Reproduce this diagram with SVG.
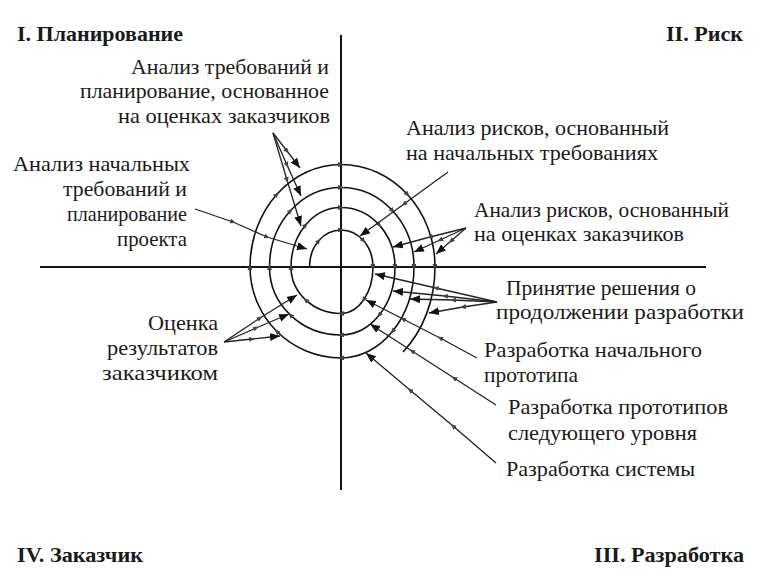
<svg xmlns="http://www.w3.org/2000/svg" width="772" height="586" viewBox="0 0 772 586">
<style>
  text { font-family: "Liberation Serif", "Times New Roman", serif; fill: #1a1a1a; font-size: 22px; }
  .ttl { font-weight: bold; font-size: 21px; }
  .axis { stroke: #111; stroke-width: 2; }
  .spiral { fill: none; stroke: #111; stroke-width: 1.6; marker-mid: url(#tick); }
  .ptr { fill: none; stroke: #222; stroke-width: 1.3; marker-end: url(#ah); marker-mid: url(#tick); }
</style>
<defs>
  <marker id="ah" markerUnits="userSpaceOnUse" markerWidth="11" markerHeight="8" refX="10" refY="4" orient="auto">
    <path d="M0,0 L10,4 L0,8 z" fill="#111"/>
  </marker>
  <marker id="tick" markerUnits="userSpaceOnUse" markerWidth="6" markerHeight="5" refX="3" refY="2.5" orient="auto">
    <path d="M0,0 L6,2.5 L0,5 z" fill="#444"/>
  </marker>
</defs>
<rect width="772" height="586" fill="#fff"/>

<g id="connectors">
  <line class="axis" x1="40" y1="267" x2="706" y2="267"/>
  <line class="axis" x1="341" y1="35" x2="341" y2="490"/>
  <path class="spiral" d="M309.5,267
    A31.5,37 0 0 1 318.7,240.8 A31.5,37 0 0 1 341,230
    A32,37 0 0 1 363.6,240.8 A32,37 0 0 1 373,267
    A32,46.5 0 0 1 363.6,299.9 A32,46.5 0 0 1 341,313.5
    A50,46.5 0 0 1 305.6,299.9 A50,46.5 0 0 1 291,267
    A50,59.5 0 0 1 305.6,224.9 A50,59.5 0 0 1 341,207.5
    A54,59.5 0 0 1 379.2,224.9 A54,59.5 0 0 1 395,267
    A54,68 0 0 1 379.2,315.1 A54,68 0 0 1 341,335
    A71.5,68 0 0 1 290.4,315.1 A71.5,68 0 0 1 269.5,267
    A71.5,79.5 0 0 1 290.4,210.8 A71.5,79.5 0 0 1 341,187.5
    A73,79.5 0 0 1 392.6,210.8 A73,79.5 0 0 1 414,267
    A73,91 0 0 1 392.6,331.3 A73,91 0 0 1 341,358
    A91,91 0 0 1 276.7,331.3 A91,91 0 0 1 250,267
    A91,102.5 0 0 1 276.7,194.5 A91,102.5 0 0 1 341,164.5
    A94,102.5 0 0 1 407.5,194.5 A94,102.5 0 0 1 435,267
    A94,113 0 0 1 403,352"/>
  <path class="ptr" d="M273,133 L287,151 L300,168"/>
  <path class="ptr" d="M273,133 L287,165 L301,196"/>
  <path class="ptr" d="M273,133 L287,180 L301,226"/>
  <path class="ptr" d="M195,209 L233,222 L267,237 L307,249"/>
  <path class="ptr" d="M448,172 L404,204 L360,236"/>
  <path class="ptr" d="M466,228 L430,237 L393,247"/>
  <path class="ptr" d="M466,228 L440,240 L414,252"/>
  <path class="ptr" d="M466,228 L451,241 L436,254"/>
  <path class="ptr" d="M497,302 L436,288 L375,274"/>
  <path class="ptr" d="M497,302 L445,296 L393,291"/>
  <path class="ptr" d="M497,302 L453,300 L410,299"/>
  <path class="ptr" d="M497,302 L463,307 L429,313"/>
  <path class="ptr" d="M477,358 L440,338 L403,319 L366,300"/>
  <path class="ptr" d="M496,405 L454,378 L412,351 L370,324"/>
  <path class="ptr" d="M496,463 L453,426 L410,390 L366,353"/>
  <path class="ptr" d="M224,342 L252,339 L280,336"/>
  <path class="ptr" d="M224,342 L256,328 L289,314"/>
  <path class="ptr" d="M224,342 L260,318 L297,295"/>
</g>

<g id="q1"><text class="ttl" x="17" y="41" textLength="166" lengthAdjust="spacingAndGlyphs">I. Планирование</text></g>
<g id="q2"><text class="ttl" x="666" y="41" textLength="77" lengthAdjust="spacingAndGlyphs">II. Риск</text></g>
<g id="q3"><text class="ttl" x="594" y="562" textLength="150" lengthAdjust="spacingAndGlyphs">III. Разработка</text></g>
<g id="q4"><text class="ttl" x="17" y="562" textLength="126" lengthAdjust="spacingAndGlyphs">IV. Заказчик</text></g>

<g id="n-req-plan">
  <text x="131" y="74" textLength="198" lengthAdjust="spacingAndGlyphs">Анализ требований и</text>
  <text x="80" y="98" textLength="249" lengthAdjust="spacingAndGlyphs">планирование, основанное</text>
  <text x="118" y="123" textLength="212" lengthAdjust="spacingAndGlyphs">на оценках заказчиков</text>
</g>
<g id="n-risk-init">
  <text x="406" y="135" textLength="263" lengthAdjust="spacingAndGlyphs">Анализ рисков, основанный</text>
  <text x="406" y="160" textLength="252" lengthAdjust="spacingAndGlyphs">на начальных требованиях</text>
</g>
<g id="n-init-req">
  <text x="13" y="171" textLength="177" lengthAdjust="spacingAndGlyphs">Анализ начальных</text>
  <text x="63" y="196" textLength="124" lengthAdjust="spacingAndGlyphs">требований и</text>
  <text x="67" y="221" textLength="120" lengthAdjust="spacingAndGlyphs">планирование</text>
  <text x="117" y="246" textLength="70" lengthAdjust="spacingAndGlyphs">проекта</text>
</g>
<g id="n-risk-cust">
  <text x="474" y="217" textLength="255" lengthAdjust="spacingAndGlyphs">Анализ рисков, основанный</text>
  <text x="474" y="241" textLength="210" lengthAdjust="spacingAndGlyphs">на оценках заказчиков</text>
</g>
<g id="n-decision">
  <text x="506" y="295" textLength="190" lengthAdjust="spacingAndGlyphs">Принятие решения о</text>
  <text x="496" y="319" textLength="248" lengthAdjust="spacingAndGlyphs">продолжении разработки</text>
</g>
<g id="n-proto1">
  <text x="484" y="357" textLength="218" lengthAdjust="spacingAndGlyphs">Разработка начального</text>
  <text x="484" y="382" textLength="94" lengthAdjust="spacingAndGlyphs">прототипа</text>
</g>
<g id="n-proto2">
  <text x="508" y="414" textLength="220" lengthAdjust="spacingAndGlyphs">Разработка прототипов</text>
  <text x="508" y="440" textLength="189" lengthAdjust="spacingAndGlyphs">следующего уровня</text>
</g>
<g id="n-system">
  <text x="506" y="476" textLength="189" lengthAdjust="spacingAndGlyphs">Разработка системы</text>
</g>
<g id="n-eval">
  <text x="148" y="330" textLength="70" lengthAdjust="spacingAndGlyphs">Оценка</text>
  <text x="107" y="355" textLength="111" lengthAdjust="spacingAndGlyphs">результатов</text>
  <text x="102" y="380" textLength="116" lengthAdjust="spacingAndGlyphs">заказчиком</text>
</g>
</svg>
